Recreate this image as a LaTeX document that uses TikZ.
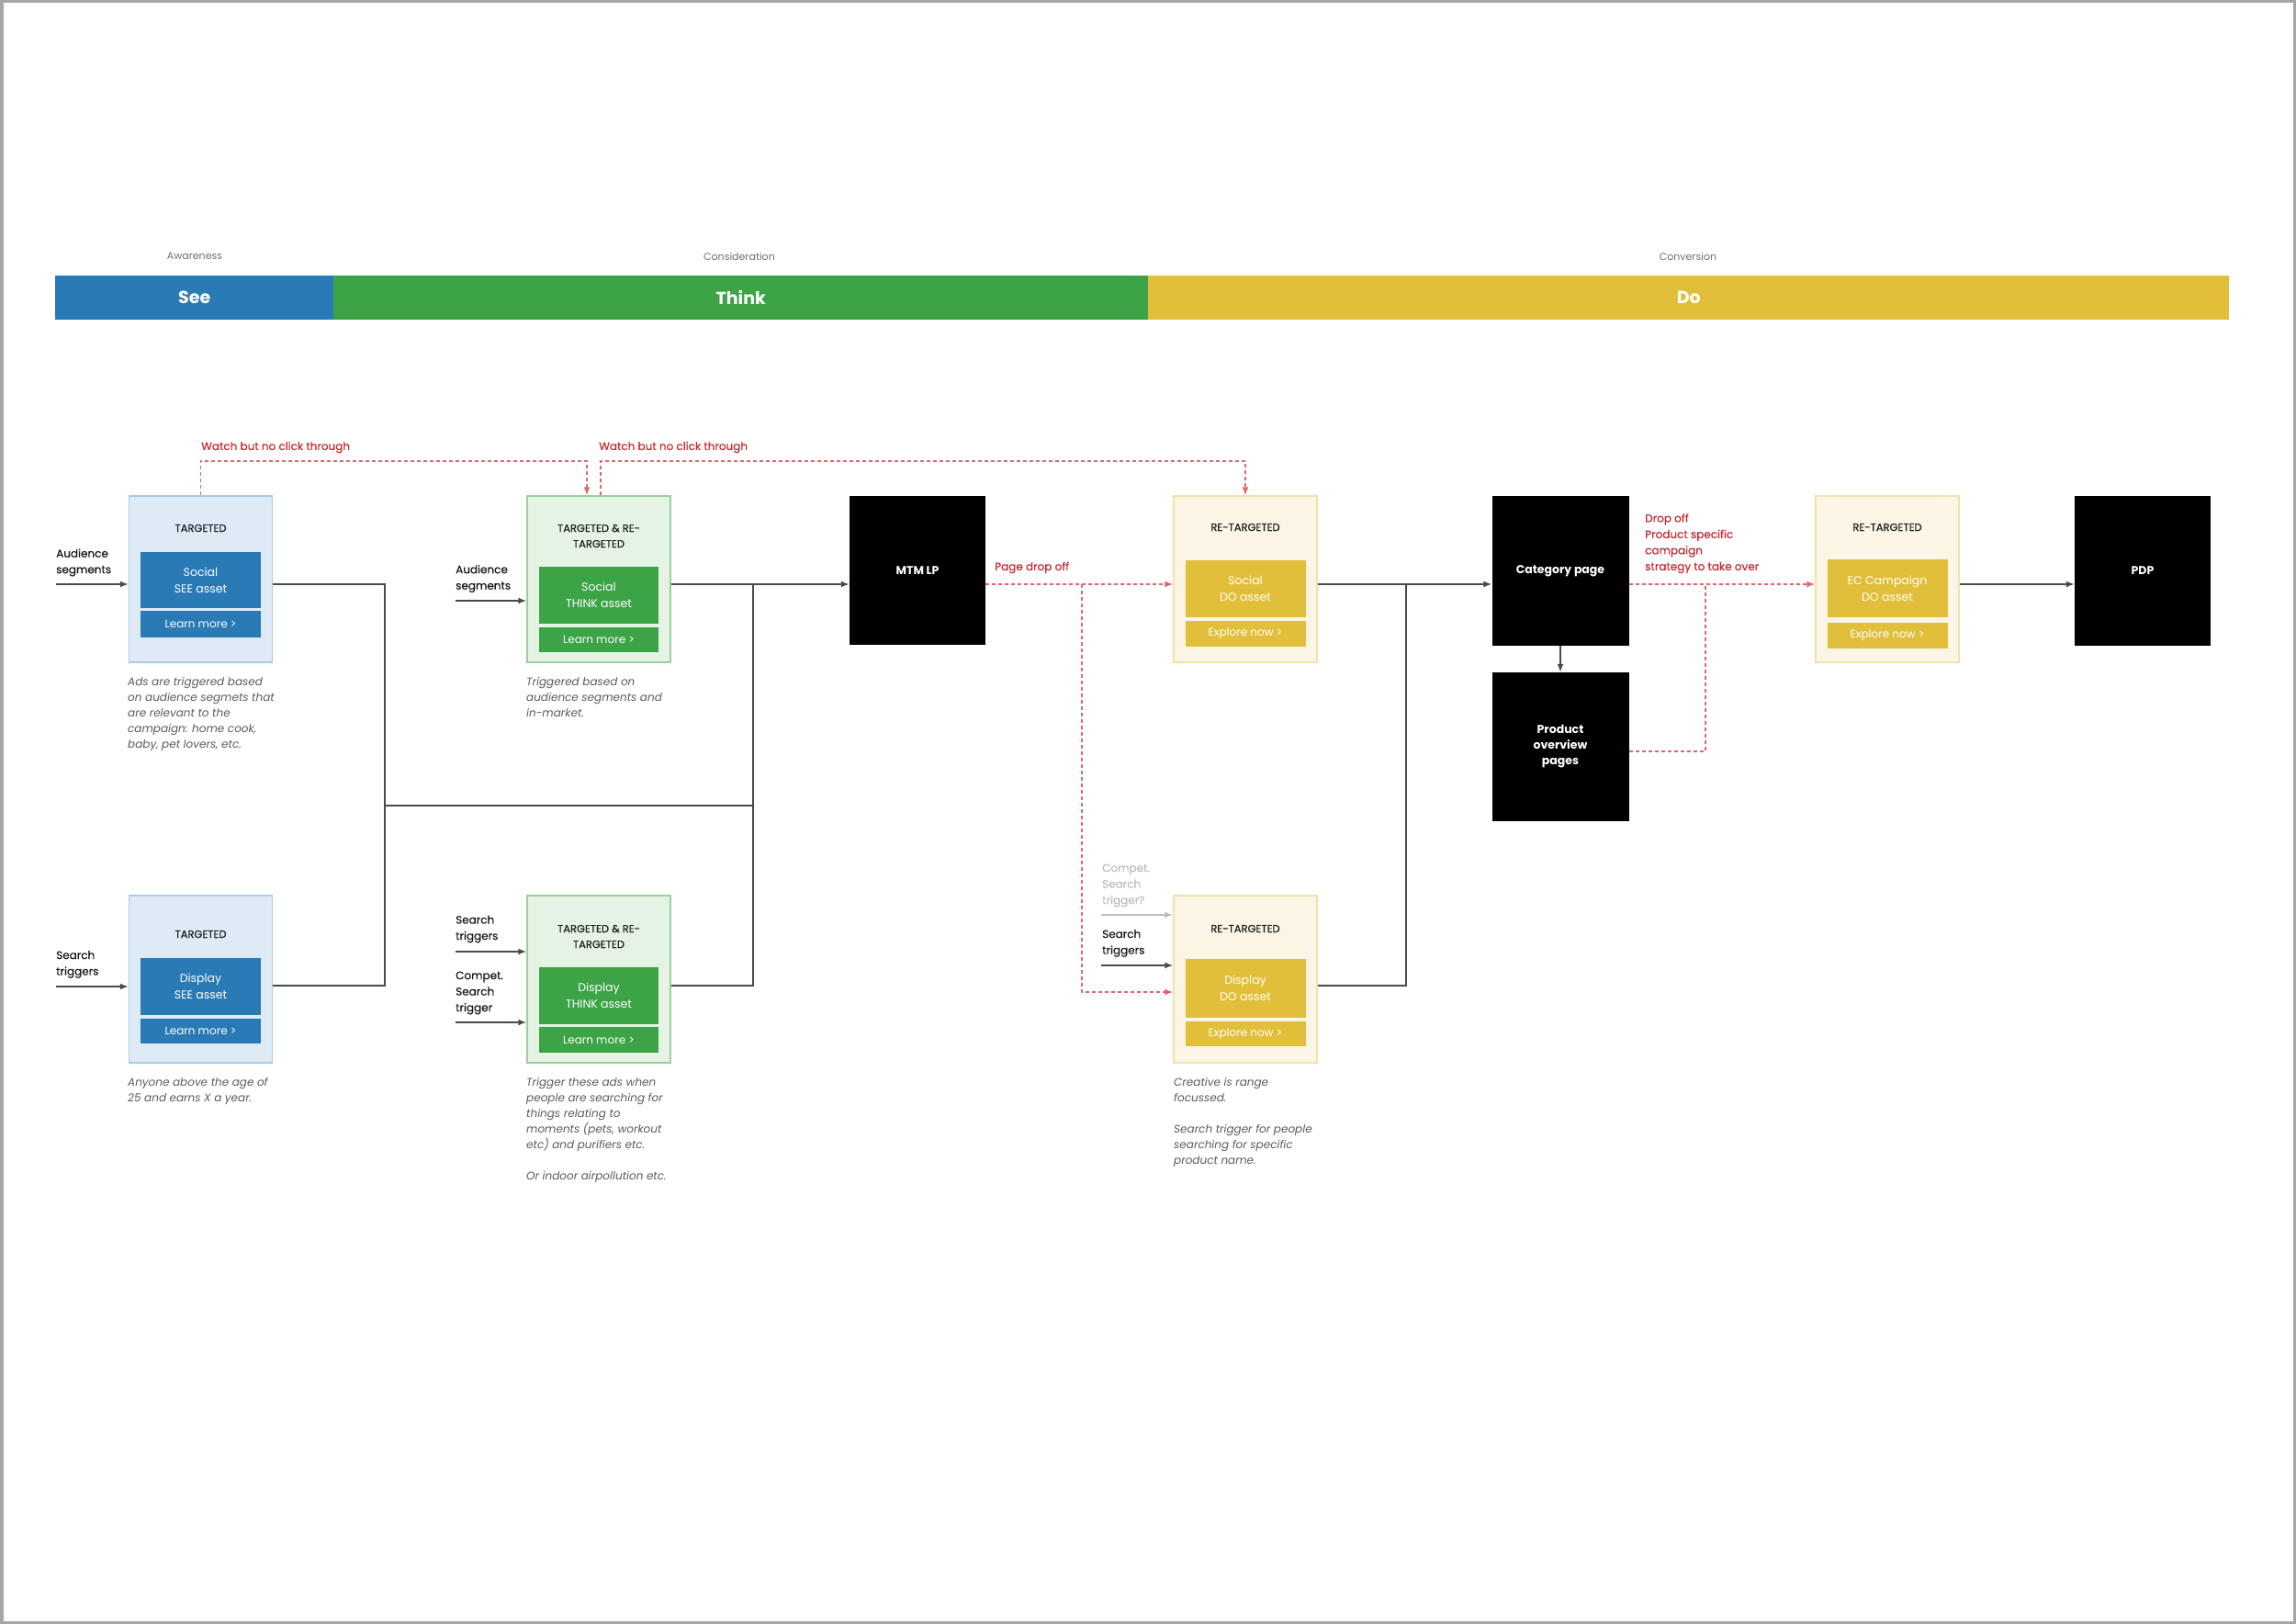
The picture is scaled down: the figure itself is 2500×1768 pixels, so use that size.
\documentclass[tikz,border=0pt]{standalone}
\usepackage{fontspec}
\setmainfont{Poppins}
\newfontfamily\medfont{Poppins}[FakeBold=0.4]
\usetikzlibrary{arrows.meta,calc}
\definecolor{seeblue}{HTML}{2A7AB5}
\definecolor{thinkgreen}{HTML}{3CA346}
\definecolor{doyellow}{HTML}{E2BF3A}
\definecolor{lblue}{HTML}{DEEBF6}
\definecolor{lbluebd}{HTML}{A8CCE8}
\definecolor{lgreen}{HTML}{E4F3E4}
\definecolor{lgreenbd}{HTML}{9AD09B}
\definecolor{lyellow}{HTML}{FAF5E5}
\definecolor{lyellowbd}{HTML}{F3E2A8}
\definecolor{ddred}{HTML}{C42A30}
\definecolor{dashred}{HTML}{E0666C}
\definecolor{linegray}{HTML}{4A4A4A}
\definecolor{descgray}{HTML}{5A5A5A}
\definecolor{phasegray}{HTML}{6E6E6E}
\definecolor{framegray}{HTML}{A6A6A6}
\definecolor{ghost}{HTML}{BDBDBD}
\newcommand\myfs[2]{\fontsize{#1}{#2}\selectfont}
\begin{document}
\begin{tikzpicture}[x=1pt,y=-1pt,
  band/.style={anchor=north west, inner sep=0pt, minimum height=48pt, text=white, font=\myfs{19}{22}\bfseries},
  phase/.style={inner sep=0pt, text=phasegray, font=\myfs{11}{13}},
  outerbox/.style={line width=1.5pt, minimum width=156pt, minimum height=181pt, inner sep=0pt},
  seebox/.style={outerbox, fill=lblue, draw=lbluebd},
  thinkbox/.style={outerbox, fill=lgreen, draw=lgreenbd},
  dobox/.style={outerbox, fill=lyellow, draw=lyellowbd},
  title/.style={inner sep=0pt, align=center, text=black!88, font=\medfont\myfs{11.5}{17}},
  asset/.style={inner sep=0pt, minimum width=131pt, minimum height=62pt, text=white, align=center, font=\myfs{12.5}{18}},
  btn/.style={inner sep=0pt, minimum width=131pt, minimum height=28pt, text=white, font=\myfs{12}{14}},
  page/.style={fill=black, inner sep=0pt, minimum width=149pt, minimum height=163pt, text=white, align=center, font=\myfs{12.5}{17}\bfseries},
  lbl/.style={inner sep=0pt, anchor=west, align=left, text=black!90, font=\medfont\myfs{12}{17.5}},
  desc/.style={inner sep=0pt, anchor=north west, align=left, text=descgray, font=\myfs{12}{17}\itshape},
  redlbl/.style={inner sep=0pt, text=ddred, font=\medfont\myfs{12}{17.5}},
  conn/.style={draw=linegray, line width=1.6pt},
  arr/.style={conn, -{Latex[length=9pt,width=7pt]}},
  reddash/.style={draw=dashred, line width=1.5pt, dash pattern=on 4pt off 3pt},
  redarr/.style={reddash, -{Latex[length=9pt,width=7pt]}}
]
\useasboundingbox (0,0) rectangle (2500,1768);
\draw[framegray, line width=3.5pt] (1.75,1.75) rectangle (2498.25,1766.25);

% phase bands
\node[band, fill=seeblue, minimum width=303pt] (bSee) at (60,300) {See};
\node[band, fill=thinkgreen, minimum width=887pt] (bThink) at (363,300) {Think};
\node[band, fill=doyellow, minimum width=1177pt] (bDo) at (1250,300) {Do};
\node[phase] (pAw) at (212,279) {Awareness};
\node[phase] (pCo) at (805,279) {Consideration};
\node[phase] (pCv) at (1838,279) {Conversion};

% helper coordinates
\coordinate (row1) at (0,636);
\coordinate (row2) at (0,1073);
\coordinate (rowmid) at (0,877);
\coordinate (rowtop) at (0,502);
\coordinate (rowred) at (0,1080);
\coordinate (rowpop) at (0,818);
\coordinate (colA) at (419,0);
\coordinate (colB) at (820,0);
\coordinate (colC) at (1531,0);
\coordinate (colR) at (1178,0);
\coordinate (colE) at (1857,0);
\coordinate (colW1) at (639,0);
\coordinate (colW2) at (654,0);

% SEE boxes
\node[seebox] (A1) at (218.5,630.5) {};
\node[title] (A1t) at (218.5,575) {TARGETED};
\node[asset, fill=seeblue, minimum height=61pt] (A1a) at (218.5,631.5) {Social\\SEE asset};
\node[btn, fill=seeblue, minimum height=29pt] (A1b) at (218.5,679.5) {Learn more >};
\node[seebox, minimum height=182pt] (A2) at (218.5,1066) {};
\node[title] (A2t) at (218.5,1017) {TARGETED};
\node[asset, fill=seeblue] (A2a) at (218.5,1074) {Display\\SEE asset};
\node[btn, fill=seeblue, minimum height=27pt] (A2b) at (218.5,1122.5) {Learn more >};

% THINK boxes
\node[thinkbox] (B1) at (652,630.5) {};
\node[title] (B1t) at (652,583.5) {TARGETED \& RE-\\TARGETED};
\node[asset, fill=thinkgreen, minimum width=130pt] (B1a) at (652,648) {Social\\THINK asset};
\node[btn, fill=thinkgreen, minimum width=130pt, minimum height=27pt] (B1b) at (652,696.5) {Learn more >};
\node[thinkbox, minimum height=182pt] (B2) at (652,1066) {};
\node[title] (B2t) at (652,1019.5) {TARGETED \& RE-\\TARGETED};
\node[asset, fill=thinkgreen, minimum width=130pt] (B2a) at (652,1084) {Display\\THINK asset};
\node[btn, fill=thinkgreen, minimum width=130pt] (B2b) at (652,1132) {Learn more >};

% DO boxes
\node[dobox] (C1) at (1356,630.5) {};
\node[title] (C1t) at (1356,574) {RE-TARGETED};
\node[asset, fill=doyellow] (C1a) at (1356,641) {Social\\DO asset};
\node[btn, fill=doyellow] (C1b) at (1356,690) {Explore now >};
\node[dobox, minimum height=182pt] (C2) at (1356,1066) {};
\node[title] (C2t) at (1356,1011) {RE-TARGETED};
\node[asset, fill=doyellow, minimum height=64pt] (C2a) at (1356,1076) {Display\\DO asset};
\node[btn, fill=doyellow, minimum height=27pt] (C2b) at (1356,1125.5) {Explore now >};
\node[dobox] (EC) at (2055,630.5) {};
\node[title] (ECt) at (2055,574) {RE-TARGETED};
\node[asset, fill=doyellow, minimum height=63pt] (ECa) at (2055,640.5) {EC Campaign\\DO asset};
\node[btn, fill=doyellow] (ECb) at (2055,692) {Explore now >};

% pages
\node[page, minimum width=148pt, minimum height=162pt] (MTM) at (999,621) {MTM LP};
\node[page] (CAT) at (1699,621.5) {Category page};
\node[page, minimum height=162pt] (POP) at (1699,813) {Product\\overview\\pages};
\node[page, minimum width=148pt] (PDP) at (2333,621.5) {PDP};

% input labels
\node[lbl] (lA1) at (61,612.5) {Audience\\segments};
\node[lbl] (lB1) at (496,630) {Audience\\segments};
\node[lbl] (lA2) at (61,1050) {Search\\triggers};
\node[lbl] (lB2a) at (496,1011.5) {Search\\triggers};
\node[lbl] (lB2b) at (496,1081) {Compet.\\Search\\trigger};
\node[lbl, text=ghost] (lC2a) at (1200,964) {Compet.\\Search\\trigger?};
\node[lbl] (lC2b) at (1200,1027) {Search\\triggers};

\coordinate (iA1) at (61,636);
\coordinate (iB1) at (496,654);
\coordinate (iA2) at (61,1074);
\coordinate (iB2a) at (496,1036);
\coordinate (iB2b) at (496,1113);
\coordinate (iC2a) at (1199,996);
\coordinate (iC2b) at (1199,1051);
\draw[arr] (iA1) -- (iA1 -| A1.west);
\draw[arr] (iB1) -- (iB1 -| B1.west);
\draw[arr] (iA2) -- (iA2 -| A2.west);
\draw[arr] (iB2a) -- (iB2a -| B2.west);
\draw[arr] (iB2b) -- (iB2b -| B2.west);
\draw[draw=ghost, line width=1.6pt, -{Latex[length=9pt,width=7pt]}] (iC2a) -- (iC2a -| C2.west);
\draw[arr] (iC2b) -- (iC2b -| C2.west);

% descriptions
\node[desc] (dA1) at (139,737) {Ads are triggered based\\on audience segmets that\\are relevant to the\\campaign: home cook,\\baby, pet lovers, etc.};
\node[desc] (dB1) at (573,737) {Triggered based on\\audience segments and\\in-market.};
\node[desc] (dA2) at (139,1173) {Anyone above the age of\\25 and earns X a year.};
\node[desc] (dB2) at (573,1173) {Trigger these ads when\\people are searching for\\things relating to\\moments (pets, workout\\etc) and purifiers etc.\\[17pt]Or indoor airpollution etc.};
\node[desc] (dC2) at (1278,1173) {Creative is range\\focussed.\\[17pt]Search trigger for people\\searching for specific\\product name.};

% black connectors
\draw[conn] (A1.east |- row1) -- (colA |- row1) -- (colA |- row2) -- (A2.east |- row2);
\draw[conn] (colA |- rowmid) -- (colB |- rowmid);
\draw[conn] (B2.east |- row2) -- (colB |- row2) -- (colB |- row1);
\draw[arr] (B1.east |- row1) -- (MTM.west |- row1);
\draw[arr] (C1.east |- row1) -- (CAT.west |- row1);
\draw[conn] (C2.east |- row2) -- (colC |- row2) -- (colC |- row1);
\draw[arr] (CAT.south) -- (POP.north);
\draw[arr] (EC.east |- row1) -- (PDP.west |- row1);

% red dashed connectors
\draw[redarr] (A1.north) -- (A1.north |- rowtop) -- (colW1 |- rowtop) -- (colW1 |- B1.north);
\draw[redarr] (colW2 |- B1.north) -- (colW2 |- rowtop) -- (C1.north |- rowtop) -- (C1.north);
\draw[redarr] (MTM.east |- row1) -- (C1.west |- row1);
\draw[redarr] (colR |- row1) -- (colR |- rowred) -- (C2.west |- rowred);
\draw[redarr] (CAT.east |- row1) -- (EC.west |- row1);
\draw[reddash] (POP.east |- rowpop) -- (colE |- rowpop) -- (colE |- row1);

% red labels
\node[redlbl, anchor=west] (w1) at (219,487) {Watch but no click through};
\node[redlbl, anchor=west] (w2) at (652,487) {Watch but no click through};
\node[redlbl, anchor=west] (pdo) at (1083,618) {Page drop off};
\node[redlbl, anchor=north west, align=left] (dro) at (1791,559) {Drop off\\Product specific\\campaign\\strategy to take over};
\end{tikzpicture}
\end{document}
